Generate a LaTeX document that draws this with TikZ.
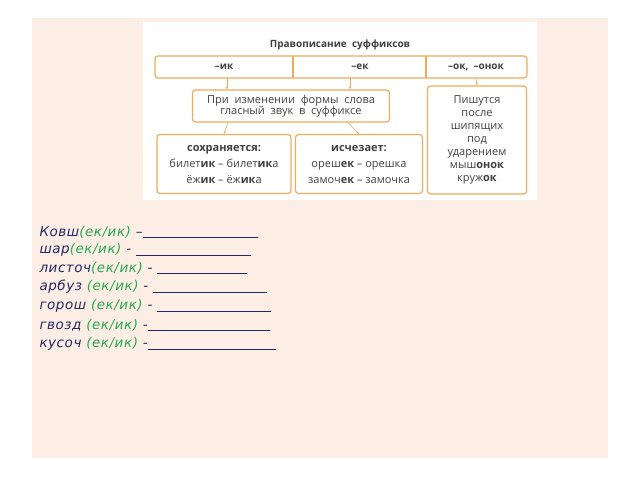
\documentclass[tikz,border=0pt]{standalone}
\usepackage{fontspec}
\setmainfont{DejaVu Sans}
\newfontfamily\ruleFont{Open Sans}
\newfontfamily\taskFont[LetterSpace=4]{DejaVu Sans}
\usetikzlibrary{arrows.meta}
\definecolor{peach}{RGB}{252,238,228}
\definecolor{ornge}{RGB}{240,170,90}
\definecolor{navy}{RGB}{35,40,100}
\definecolor{grn}{RGB}{40,170,80}

\tikzset{
  rulebox/.style={draw=ornge, line width=1.2pt, rounded corners=3pt, fill=white},
  ruletext/.style={font=\ruleFont\fontsize{11}{11.5}\selectfont, text=black!75, align=center, inner sep=1pt},
  ruleArrow/.style={-{Stealth[length=3pt]}, draw=ornge, line width=0.6pt},
  task/.style={anchor=west, font=\taskFont\itshape\fontsize{13.5}{14}\selectfont, text=navy}
}
\newcommand{\sfx}[1]{\textcolor{grn}{#1}}

\begin{document}
\begin{tikzpicture}[x=1pt, y=-1pt]
    \useasboundingbox (0,0) rectangle (640,480);
    % Background
    \fill[peach] (32,18) rectangle (608,458);
    \fill[white] (143,22) rectangle (537,200);

    % Title and header bar
    \node[ruletext, font=\ruleFont\bfseries\fontsize{10}{11}\selectfont] (title) at (340,45) {Правописание\ \ суффиксов};
    \draw[rulebox] (155,56) rectangle (527,78);
    \draw[ornge, line width=1.2pt] (293,56) -- (293,78) (426,56) -- (426,78);
    \node[ruletext, font=\ruleFont\bfseries\fontsize{10}{11}\selectfont] (ik) at (224,67) {–ик};
    \node[ruletext, font=\ruleFont\bfseries\fontsize{10}{11}\selectfont] (ek) at (360,67) {–ек};
    \node[ruletext, font=\ruleFont\bfseries\fontsize{10}{11}\selectfont] (ok) at (476,67) {–ок,\ \ –онок};
    \coordinate (ikb) at (227,78);
    \coordinate (ekb) at (350,78);
    \coordinate (okb) at (476,78);

    % Rule boxes
    \node[rulebox, ruletext, minimum width=197pt, minimum height=32pt] (change) at (291,106)
        {При\ \ изменении\ \ формы\ \ слова\\гласный\ \ звук\ \ в\ \ суффиксе};
    \node[rulebox, ruletext, font=\ruleFont\fontsize{11}{13}\selectfont, minimum width=99pt, minimum height=108pt] (after) at (477,140)
        {Пишутся\\после\\шипящих\\под\\ударением\\мыш\textbf{онок}\\круж\textbf{ок}};
    \node[rulebox, ruletext, font=\ruleFont\fontsize{11}{16}\selectfont, minimum width=134pt, minimum height=59pt] (keep) at (224,164)
        {\textbf{сохраняется:}\\билет\textbf{ик} – билет\textbf{ик}а\\ёж\textbf{ик} – ёж\textbf{ик}а};
    \node[rulebox, ruletext, font=\ruleFont\fontsize{11}{16}\selectfont, minimum width=127pt, minimum height=59pt] (lose) at (359,164)
        {\textbf{исчезает:}\\ореш\textbf{ек} – орешка\\замоч\textbf{ек} – замочка};

    \draw[ruleArrow] (ikb) -- (change.north -| ikb);
    \draw[ruleArrow] (ekb) -- (change.north -| ekb);
    \draw[ruleArrow] (okb) -- (after.north);
    \draw[ruleArrow] (change.south -| keep) ++(4,0) -- (keep.north);
    \draw[ruleArrow] (change.south -| lose) ++(-11,0) -- (lose.north);

    % Exercise lines
    \node[task] (w1) at (36,232) {Ковш\sfx{(ек/ик)} –\underline{\hspace{115pt}}};
    \node[task] (w2) at (36,250) {шар\sfx{(ек/ик)} - \underline{\hspace{115pt}}};
    \node[task] (w3) at (36,268) {листоч\sfx{(ек/ик)} - \underline{\hspace{90pt}}};
    \node[task] (w4) at (36,287) {арбуз \sfx{(ек/ик)} - \underline{\hspace{114pt}}};
    \node[task] (w5) at (36,306) {горош \sfx{(ек/ик)} - \underline{\hspace{114pt}}};
    \node[task] (w6) at (36,325) {гвозд \sfx{(ек/ик)} -\underline{\hspace{122pt}}};
    \node[task] (w7) at (36,344) {кусоч \sfx{(ек/ик)} -\underline{\hspace{128pt}}};
\end{tikzpicture}
\end{document}
